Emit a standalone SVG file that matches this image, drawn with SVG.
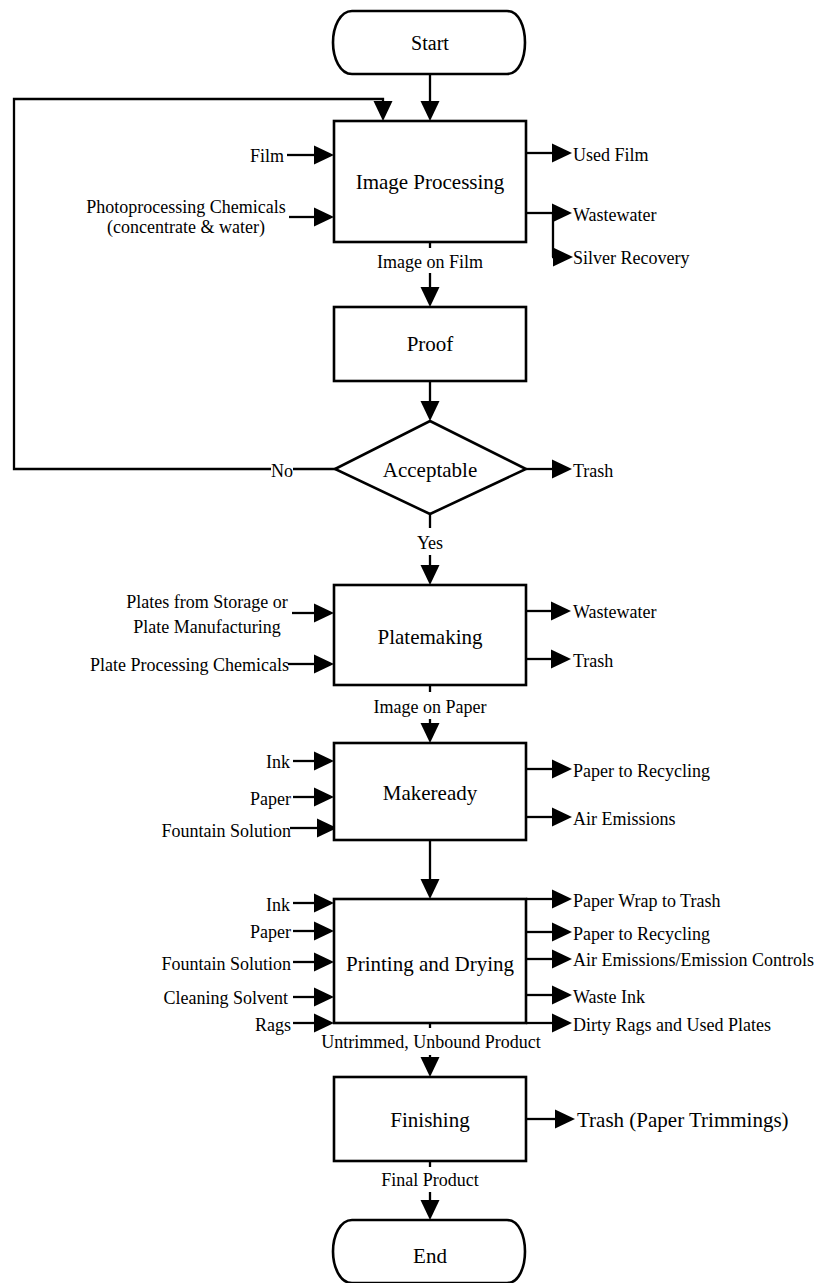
<svg xmlns="http://www.w3.org/2000/svg" width="823" height="1283" viewBox="0 0 823 1283">
<defs>
<style>
.box{fill:#fff;stroke:#000;stroke-width:2.6}
.ln{fill:none;stroke:#000;stroke-width:2.3}
.ar{fill:none;stroke:#000;stroke-width:2.3;marker-end:url(#ah)}
text{font-family:"Liberation Serif","Times New Roman",serif;fill:#000}
.lb{font-size:18px}
.tt{font-size:21px;text-anchor:middle}
.r{text-anchor:end}
.m{text-anchor:middle}
</style>
<marker id="ah" markerUnits="userSpaceOnUse" markerWidth="21" markerHeight="20" refX="0" refY="9.5" orient="auto" overflow="visible">
<path d="M0,0 L20,9.5 L0,19 Z" fill="#000"/>
</marker>
</defs>
<rect width="823" height="1283" fill="#fff"/>

<g id="connectors">
<line class="ar" x1="430" y1="74" x2="430" y2="101"/>
<line class="ln" x1="336" y1="469" x2="293" y2="469"/>
<path class="ar" d="M271,469 H14 V99 H383 V101"/>
<line class="ar" x1="287" y1="155" x2="314" y2="155"/>
<line class="ar" x1="289" y1="217" x2="314" y2="217"/>
<line class="ar" x1="526" y1="153" x2="552" y2="153"/>
<line class="ar" x1="526" y1="213" x2="552" y2="213"/>
<path class="ar" d="M553,213 V257 M552,257 L553,257"/>
<line class="ln" x1="430" y1="242" x2="430" y2="248"/>
<line class="ar" x1="430" y1="273" x2="430" y2="287"/>
<line class="ar" x1="430" y1="381" x2="430" y2="401"/>
<line class="ar" x1="526" y1="469" x2="552" y2="469"/>
<line class="ln" x1="430" y1="514" x2="430" y2="528"/>
<line class="ar" x1="430" y1="555" x2="430" y2="565"/>
<line class="ar" x1="292" y1="613" x2="314" y2="613"/>
<line class="ar" x1="288" y1="664" x2="314" y2="664"/>
<line class="ar" x1="526" y1="611" x2="551" y2="611"/>
<line class="ar" x1="526" y1="659" x2="551" y2="659"/>
<line class="ln" x1="430" y1="685" x2="430" y2="692"/>
<line class="ar" x1="430" y1="719" x2="430" y2="723"/>
<line class="ar" x1="293" y1="761" x2="314" y2="761"/>
<line class="ar" x1="293" y1="797" x2="314" y2="797"/>
<line class="ar" x1="290" y1="828" x2="317" y2="828"/>
<line class="ar" x1="526" y1="769" x2="552" y2="769"/>
<line class="ar" x1="526" y1="817" x2="552" y2="817"/>
<line class="ar" x1="430" y1="840" x2="430" y2="879"/>
<line class="ar" x1="293" y1="903" x2="314" y2="903"/>
<line class="ar" x1="293" y1="931" x2="314" y2="931"/>
<line class="ar" x1="293" y1="962" x2="314" y2="962"/>
<line class="ar" x1="293" y1="997" x2="314" y2="997"/>
<line class="ar" x1="293" y1="1023" x2="314" y2="1023"/>
<line class="ar" x1="526" y1="899" x2="552" y2="899"/>
<line class="ar" x1="526" y1="932" x2="552" y2="932"/>
<line class="ar" x1="526" y1="959" x2="552" y2="959"/>
<line class="ar" x1="526" y1="995" x2="552" y2="995"/>
<line class="ar" x1="526" y1="1023" x2="552" y2="1023"/>
<line class="ln" x1="430" y1="1023" x2="430" y2="1028"/>
<line class="ar" x1="430" y1="1055" x2="430" y2="1057"/>
<line class="ar" x1="526" y1="1119" x2="555" y2="1119"/>
<line class="ln" x1="430" y1="1161" x2="430" y2="1167"/>
<line class="ar" x1="430" y1="1192" x2="430" y2="1200"/>
</g>

<g id="labels">
<text class="lb r" x="284" y="162">Film</text>
<text class="lb m" x="186" y="213">Photoprocessing Chemicals</text>
<text class="lb m" x="186" y="233">(concentrate &amp; water)</text>
<text class="lb" x="573" y="161">Used Film</text>
<text class="lb" x="573" y="221">Wastewater</text>
<text class="lb" x="573" y="264">Silver Recovery</text>
<text class="lb m" x="430" y="268">Image on Film</text>
<text class="lb" x="271" y="477">No</text>
<text class="lb" x="573" y="477">Trash</text>
<text class="lb m" x="430" y="549">Yes</text>
<text class="lb m" x="207" y="608">Plates from Storage or</text>
<text class="lb m" x="207" y="633">Plate Manufacturing</text>
<text class="lb r" x="289" y="671">Plate Processing Chemicals</text>
<text class="lb" x="573" y="618">Wastewater</text>
<text class="lb" x="573" y="667">Trash</text>
<text class="lb m" x="430" y="713">Image on Paper</text>
<text class="lb r" x="290" y="768">Ink</text>
<text class="lb r" x="291" y="805">Paper</text>
<text class="lb r" x="291" y="837">Fountain Solution</text>
<text class="lb" x="573" y="777">Paper to Recycling</text>
<text class="lb" x="573" y="825">Air Emissions</text>
<text class="lb r" x="290" y="911">Ink</text>
<text class="lb r" x="291" y="938">Paper</text>
<text class="lb r" x="291" y="970">Fountain Solution</text>
<text class="lb r" x="288" y="1004">Cleaning Solvent</text>
<text class="lb r" x="291" y="1031">Rags</text>
<text class="lb" x="573" y="907">Paper Wrap to Trash</text>
<text class="lb" x="573" y="940">Paper to Recycling</text>
<text class="lb" x="573" y="966">Air Emissions/Emission Controls</text>
<text class="lb" x="573" y="1003">Waste Ink</text>
<text class="lb" x="573" y="1031">Dirty Rags and Used Plates</text>
<text class="lb m" x="431" y="1048">Untrimmed, Unbound Product</text>
<text style="font-size:21px" x="577" y="1127">Trash (Paper Trimmings)</text>
<text class="lb m" x="430" y="1186">Final Product</text>
</g>

<g id="start">
<path class="box" d="M352,11 H507 C519,11 525,27 525,42.5 C525,58 519,74 507,74 H352 C340,74 333,58 333,42.5 C333,27 340,11 352,11 Z"/>
<text class="tt" style="font-size:20px" x="430" y="50">Start</text>
</g>
<g id="image-processing">
<rect class="box" x="334" y="121" width="192" height="121"/>
<text class="tt" x="430" y="189">Image Processing</text>
</g>
<g id="proof">
<rect class="box" x="334" y="307" width="192" height="74"/>
<text class="tt" x="430" y="351">Proof</text>
</g>
<g id="acceptable">
<polygon class="box" points="430,421 526,469 430,514 335,469"/>
<text class="tt" x="430" y="477">Acceptable</text>
</g>
<g id="platemaking">
<rect class="box" x="334" y="585" width="192" height="100"/>
<text class="tt" x="430" y="644">Platemaking</text>
</g>
<g id="makeready">
<rect class="box" x="334" y="743" width="192" height="97"/>
<text class="tt" x="430" y="800">Makeready</text>
</g>
<g id="printing">
<rect class="box" x="334" y="899" width="192" height="124"/>
<text class="tt" x="430" y="971">Printing and Drying</text>
</g>
<g id="finishing">
<rect class="box" x="334" y="1077" width="192" height="84"/>
<text class="tt" x="430" y="1127">Finishing</text>
</g>
<g id="end">
<path class="box" d="M352,1220 H507 C519,1220 525,1236 525,1251.5 C525,1267 519,1283 507,1283 H352 C340,1283 333,1267 333,1251.5 C333,1236 340,1220 352,1220 Z"/>
<text class="tt" x="430" y="1263">End</text>
</g>
</svg>
